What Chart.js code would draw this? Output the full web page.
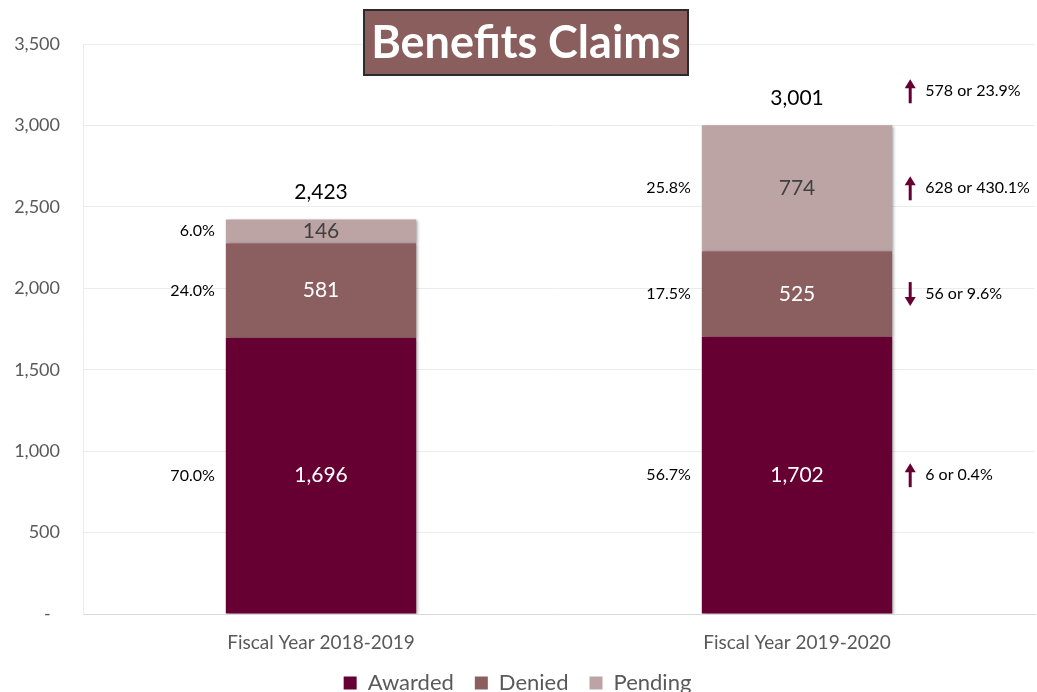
<!DOCTYPE html>
<html>
<head>
<meta charset="utf-8">
<script src="https://cdn.jsdelivr.net/npm/chart.js@4"></script>
<style>
html,body{margin:0;padding:0;background:#fff;}
#wrap{width:1037px;height:692px;position:relative;}
</style>
</head>
<body>
<div id="wrap"><canvas id="c" width="1037" height="692"></canvas></div>
<script>
const categories = ['Fiscal Year 2018-2019', 'Fiscal Year 2019-2020'];
const awarded = [1696, 1702];
const denied = [581, 525];
const pending = [146, 774];
const seriesNames = ['Awarded', 'Denied', 'Pending'];
const yTicks = [0, 500, 1000, 1500, 2000, 2500, 3000, 3500];
const chartTitle = 'Benefits Claims';

const FONT = 'Lato, "Open Sans", sans-serif';
const colors = ['#660033', '#8B5F5F', '#BCA4A4'];
const inLabelColors = ['#ffffff', '#ffffff', '#404040'];
const fmt = v => v.toLocaleString('en-US');
const series = [awarded, denied, pending];
const totals = categories.map((_, i) => awarded[i] + denied[i] + pending[i]);

function drawArrow(ctx, x, y, up) {
  ctx.save();
  ctx.fillStyle = '#660033';
  ctx.strokeStyle = '#660033';
  ctx.lineWidth = 3;
  const h = 12, head = 9, hw = 5.5;
  ctx.beginPath();
  if (up) {
    ctx.moveTo(x, y + h); ctx.lineTo(x, y - h + head - 1);
  } else {
    ctx.moveTo(x, y - h); ctx.lineTo(x, y + h - head + 1);
  }
  ctx.stroke();
  ctx.beginPath();
  if (up) {
    ctx.moveTo(x, y - h); ctx.lineTo(x - hw, y - h + head); ctx.lineTo(x + hw, y - h + head);
  } else {
    ctx.moveTo(x, y + h); ctx.lineTo(x - hw, y + h - head); ctx.lineTo(x + hw, y + h - head);
  }
  ctx.closePath(); ctx.fill();
  ctx.restore();
}

const shadowPlugin = {
  id: 'barShadow',
  beforeDatasetsDraw(chart) {
    const ctx = chart.ctx;
    ctx.save();
    ctx.shadowColor = 'rgba(0,0,0,0.35)';
    ctx.shadowBlur = 3;
    ctx.shadowOffsetX = 2;
    ctx.shadowOffsetY = 1;
  },
  afterDatasetsDraw(chart) {
    chart.ctx.restore();
  }
};

const labelPlugin = {
  id: 'labels',
  afterDatasetsDraw(chart) {
    const ctx = chart.ctx;
    ctx.save();
    ctx.textBaseline = 'middle';
    series.forEach((data, d) => {
      const meta = chart.getDatasetMeta(d);
      meta.data.forEach((bar, i) => {
        const cy = (bar.y + bar.base) / 2;
        ctx.font = '21px ' + FONT;
        ctx.fillStyle = inLabelColors[d];
        ctx.textAlign = 'center';
        ctx.fillText(fmt(data[i]), bar.x, cy);
        const pct = (data[i] / totals[i] * 100).toFixed(1) + '%';
        ctx.font = '16px ' + FONT;
        ctx.fillStyle = '#000';
        ctx.textAlign = 'right';
        ctx.fillText(pct, bar.x - bar.width / 2 - 11, cy);
        if (i === 1) {
          const diff = data[1] - data[0];
          const rel = (Math.abs(diff) / data[0] * 100).toFixed(1) + '%';
          const ax = bar.x + bar.width / 2 + 18;
          drawArrow(ctx, ax, cy, diff >= 0);
          ctx.textAlign = 'left';
          ctx.fillStyle = '#000';
          ctx.fillText(fmt(Math.abs(diff)) + ' or ' + rel, ax + 15, cy);
        }
      });
    });
    // totals
    const topMeta = chart.getDatasetMeta(series.length - 1);
    topMeta.data.forEach((bar, i) => {
      const ty = bar.y - 27;
      ctx.font = '21px ' + FONT;
      ctx.fillStyle = '#000';
      ctx.textAlign = 'center';
      ctx.fillText(fmt(totals[i]), bar.x, ty);
      if (i === 1) {
        const diff = totals[1] - totals[0];
        const rel = (Math.abs(diff) / totals[0] * 100).toFixed(1) + '%';
        const ax = bar.x + bar.width / 2 + 18;
        drawArrow(ctx, ax, ty - 7, diff >= 0);
        ctx.font = '16px ' + FONT;
        ctx.textAlign = 'left';
        ctx.fillText(fmt(Math.abs(diff)) + ' or ' + rel, ax + 15, ty - 7);
      }
    });
    ctx.restore();
  }
};

const titlePlugin = {
  id: 'titleBox',
  afterDraw(chart) {
    const ctx = chart.ctx;
    ctx.save();
    const x = 364, y = 10, w = 324, h = 65;
    ctx.fillStyle = '#8B5E5E';
    ctx.fillRect(x, y, w, h);
    ctx.strokeStyle = '#2b2b2b';
    ctx.lineWidth = 2;
    ctx.strokeRect(x, y, w, h);
    ctx.font = 'bold 45px ' + FONT;
    ctx.fillStyle = '#ffffff';
    ctx.textAlign = 'center';
    ctx.textBaseline = 'middle';
    ctx.fillText(chartTitle, x + w / 2, y + h / 2 + 1);
    ctx.restore();
  }
};

new Chart(document.getElementById('c'), {
  type: 'bar',
  data: {
    labels: categories,
    datasets: series.map((data, d) => ({
      label: seriesNames[d],
      data: data,
      backgroundColor: colors[d],
      borderWidth: 0,
      barPercentage: 0.4,
      categoryPercentage: 1
    }))
  },
  options: {
    responsive: false,
    animation: false,
    devicePixelRatio: 1,
    layout: { padding: { top: 44, right: 2, left: 0, bottom: -12 } },
    plugins: {
      tooltip: { enabled: false },
      title: { display: false },
      legend: {
        position: 'bottom',
        labels: {
          color: '#595959',
          font: { family: FONT, size: 22 },
          boxWidth: 13,
          boxHeight: 13,
          padding: 21
        }
      }
    },
    scales: {
      x: {
        stacked: true,
        afterFit(axis) { axis.height = 37; },
        grid: { display: false, drawTicks: false },
        border: { color: '#d9d9d9', width: 1 },
        ticks: { color: '#595959', font: { family: FONT, size: 19 }, padding: 17 }
      },
      y: {
        stacked: true,
        min: 0,
        max: 3500,
        afterBuildTicks(axis) { axis.ticks = yTicks.map(v => ({ value: v })); },
        afterFit(axis) { axis.width = 83; },
        grid: { color: '#ececec', drawTicks: false },
        border: { color: '#ececec', width: 1 },
        ticks: {
          color: '#595959',
          font: { family: FONT, size: 18 },
          padding: 23,
          callback: v => v === 0 ? '-  ' : fmt(v)
        }
      }
    }
  },
  plugins: [shadowPlugin, labelPlugin, titlePlugin]
});
</script>
</body>
</html>
